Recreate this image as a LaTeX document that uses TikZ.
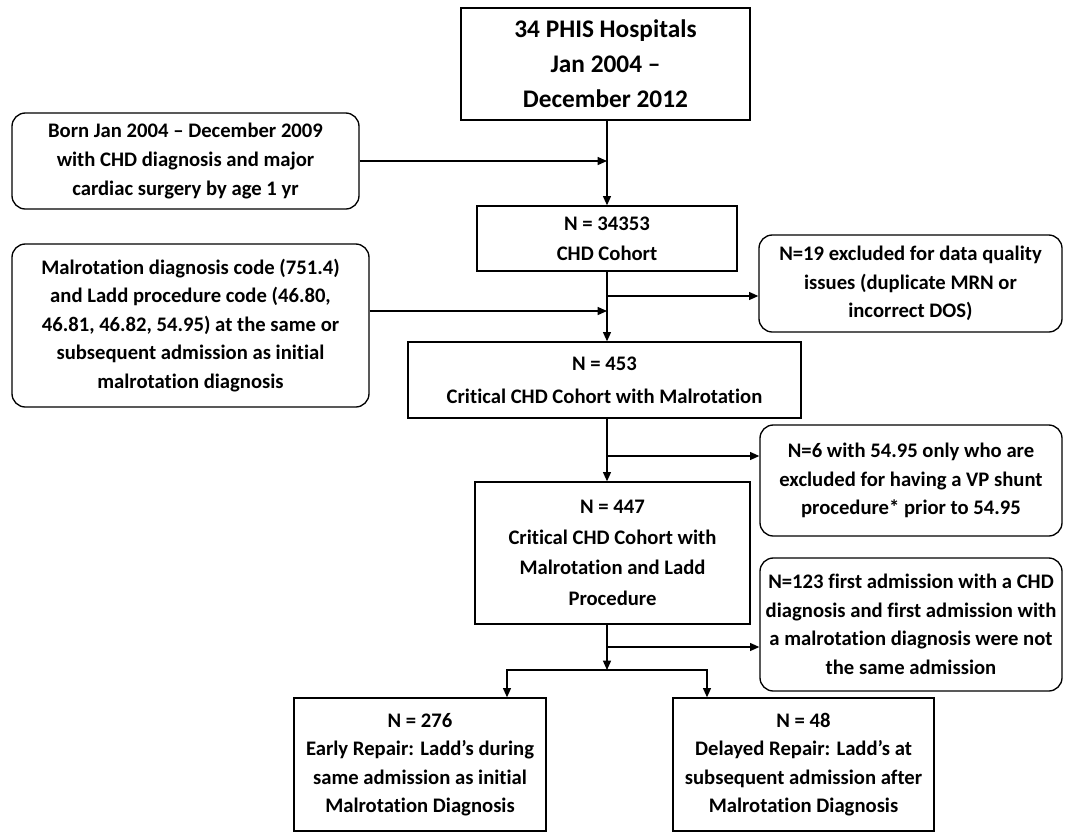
\documentclass[tikz,border=0pt]{standalone}
\usepackage{fontspec}
\setmainfont{Carlito}[Ligatures={TeX,NoCommon}]
\usetikzlibrary{arrows.meta}

\begin{document}
\begin{tikzpicture}[x=0.75pt,y=0.75pt,yscale=-1,xscale=1,
  box/.style={draw, line width=1pt, inner sep=0pt, align=center, font=\fontsize{15.5}{21.4}\selectfont\bfseries},
  rbox/.style={box, rounded corners=10pt},
  sized/.style 2 args={minimum width=#1*0.75pt, minimum height=#2*0.75pt},
  flow/.style={line width=1pt, -{Triangle[length=7pt,width=6pt]}}]
\useasboundingbox (0,0) rectangle (1065,833);

%Shape: Rectangle [top]
\node [box, sized={289}{112}, font=\fontsize{19}{26.2}\selectfont\bfseries] (top) at (605.5,64) {34 PHIS Hospitals\\Jan 2004 --\\December 2012};
%Shape: Rounded Rect [born]
\node [rbox, sized={347}{96}] (born) at (185.5,161) {Born Jan 2004 -- December 2009\\with CHD diagnosis and major\\cardiac surgery by age 1 yr};
%Shape: Rectangle [chd]
\node [box, sized={260}{65}, font=\fontsize{15.5}{22.5}\selectfont\bfseries] (chd) at (607,238.5) {N = 34353\\CHD Cohort};
%Shape: Rounded Rect [malrot]
\node [rbox, sized={357}{163}] (malrot) at (190.5,325.5) {Malrotation diagnosis code (751.4)\\and Ladd procedure code (46.80,\\46.81, 46.82, 54.95) at the same or\\subsequent admission as initial\\malrotation diagnosis};
%Shape: Rounded Rect [excl19]
\node [rbox, sized={303}{97}] (excl19) at (910.5,283.5) {N=19 excluded for data quality\\issues (duplicate MRN or\\incorrect DOS)};
%Shape: Rectangle [crit453]
\node [box, sized={393}{76}, font=\fontsize{15.5}{25}\selectfont\bfseries] (crit453) at (604.5,380) {N = 453\\Critical CHD Cohort with Malrotation};
%Shape: Rounded Rect [excl6]
\node [rbox, sized={302}{111}] (excl6) at (911,480.5) {N=6 with 54.95 only who are\\excluded for having a VP shunt\\procedure* prior to 54.95};
%Shape: Rectangle [crit447]
\node [box, sized={275}{142}, font=\fontsize{15.5}{23}\selectfont\bfseries] (crit447) at (612.5,553) {N = 447\\Critical CHD Cohort with\\Malrotation and Ladd\\Procedure};
%Shape: Rounded Rect [excl123]
\node [rbox, sized={302}{133}] (excl123) at (911,624.5) {N=123 first admission with a CHD\\diagnosis and first admission with\\a malrotation diagnosis were not\\the same admission};
%Shape: Rectangle [early]
\node [box, sized={252}{133}] (early) at (420,764.5) {N = 276\\Early Repair: Ladd’s during\\same admission as initial\\Malrotation Diagnosis};
%Shape: Rectangle [delayed]
\node [box, sized={261}{133}] (delayed) at (803.5,764.5) {N = 48\\Delayed Repair: Ladd’s at\\subsequent admission after\\Malrotation Diagnosis};

% junction points
\coordinate (split) at (607,670);
\coordinate (sl) at (507,670);
\coordinate (sr) at (707,670);
\coordinate (bm) at (0,311);
\coordinate (b19) at (0,296);
\coordinate (b6) at (0,456);
\coordinate (b123) at (0,647);

%Straight Lines [trunk]
\draw [flow] (split |- top.south) -- (split |- chd.north);
\draw [flow] (split |- chd.south) -- (split |- crit453.north);
\draw [flow] (split |- crit453.south) -- (split |- crit447.north);
\draw [flow] (split |- crit447.south) -- (split);
%Straight Lines [inputs]
\draw [flow] (born.east) -- (born.east -| split);
\draw [flow] (malrot.east |- bm) -- (split |- bm);
%Straight Lines [exclusions]
\draw [flow] (split |- b19) -- (excl19.west |- b19);
\draw [flow] (split |- b6) -- (excl6.west |- b6);
\draw [flow] (split |- b123) -- (excl123.west |- b123);
%Straight Lines [split]
\draw [flow] (split) -| (sl |- early.north);
\draw [flow] (split) -| (sr |- delayed.north);

\end{tikzpicture}
\end{document}
